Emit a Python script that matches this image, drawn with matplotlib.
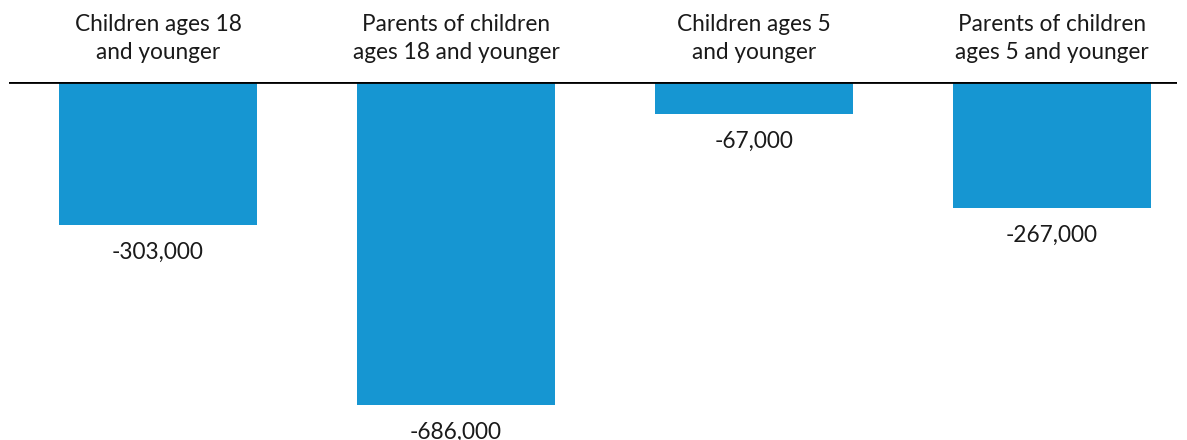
import matplotlib.pyplot as plt
import numpy as np

plt.rcParams["font.family"] = ["Lato", "DejaVu Sans"]

categories = [
    "Children ages 18\nand younger",
    "Parents of children\nages 18 and younger",
    "Children ages 5\nand younger",
    "Parents of children\nages 5 and younger",
]
values = [-303000, -686000, -67000, -267000]
value_labels = ["-303,000", "-686,000", "-67,000", "-267,000"]

BLUE = "#1696d2"


def main():
    fig = plt.figure(figsize=(11.87, 4.40), dpi=100)
    ax = fig.add_axes([9 / 1187, 0, 1168 / 1187, 358 / 440])

    x = np.arange(len(categories))
    ax.bar(x, values, width=0.664, color=BLUE)

    ax.set_xlim(-0.5, 3.42)
    ax.set_ylim(-760600, 0)
    ax.axhline(0, color="black", linewidth=2, zorder=3)

    for i, (cat, lab, val) in enumerate(zip(categories, value_labels, values)):
        ax.annotate(cat, xy=(i, 0), xytext=(0, 31.5), textcoords="offset points",
                    ha="center", va="center", fontsize=16.3, color="#1a1a1a",
                    linespacing=1.4, annotation_clip=False)
        # the lowest label runs past the bottom edge, as in the original
        ax.annotate(lab, xy=(i, val), xytext=(0, -20), textcoords="offset points",
                    ha="center", va="center", fontsize=16.3, color="#1a1a1a",
                    annotation_clip=False)

    ax.axis("off")
    fig.savefig("out.png", dpi=100)


if __name__ == "__main__":
    main()
